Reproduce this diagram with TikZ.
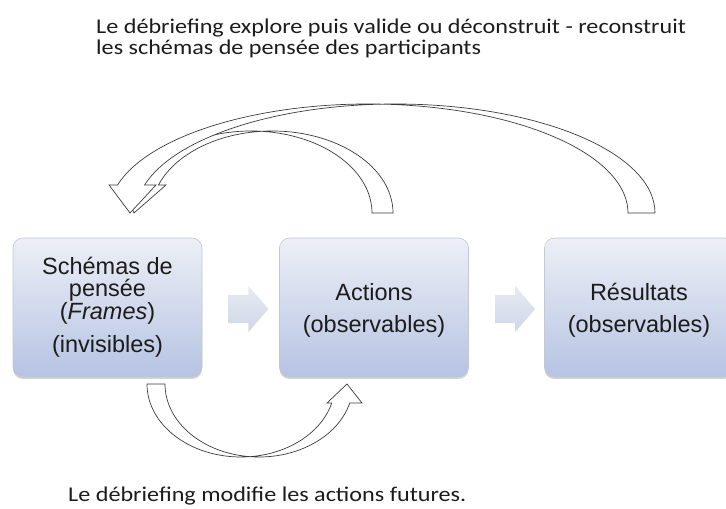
\documentclass[tikz,border=0pt]{standalone}
\usepackage{fontspec}
\setmainfont{Carlito}
\newfontfamily\capfont[FakeStretch=1.15]{Carlito}
\newfontfamily\boxfont{Liberation Sans}
\usetikzlibrary{shapes.arrows,shadows,calc}
\definecolor{boxtop}{RGB}{236,239,246}
\definecolor{boxbot}{RGB}{182,195,226}
\definecolor{boxline}{RGB}{196,200,212}
\definecolor{arrtop}{RGB}{230,234,242}
\definecolor{arrbot}{RGB}{208,215,230}
\definecolor{curveline}{RGB}{60,60,60}
\definecolor{txt}{RGB}{28,28,28}
\begin{document}
\begin{tikzpicture}[x=1pt,y=1pt,
  stagebox/.style={draw=boxline, line width=0.6pt, rounded corners=10pt,
    top color=boxtop, bottom color=boxbot,
    minimum width=189pt, minimum height=139pt, inner sep=0pt, align=center,
    font=\boxfont\fontsize{23.5}{21.5}\selectfont, text=txt,
    drop shadow={shadow xshift=0pt, shadow yshift=-2pt, opacity=0.25, fill=black!70}},
  blockarrow/.style={single arrow, single arrow head extend=9pt,
    single arrow tip angle=98, text height=14pt, text depth=14pt, text width=0pt,
    minimum height=40pt, inner sep=0pt, top color=arrtop, bottom color=arrbot, draw=none},
  curvedarrow/.style={draw=curveline, line width=0.7pt, fill=white, line join=miter},
  caption/.style={font=\capfont\fontsize{21}{21}\selectfont, text=txt, align=left, inner sep=0pt}]
\useasboundingbox (0,0) rectangle (726,509);

% boxes
\node[stagebox] (b1) at (107.5,201.5) {Schémas de\\pensée\\(\textit{Frames})\\[10.5pt](invisibles)};
\node[stagebox] (b2) at (374,201.5) {\rule{0pt}{23.4pt}Actions\\[10.5pt](observables)};
\node[stagebox] (b3) at (639,201.5) {\rule{0pt}{23.4pt}Résultats\\[10.5pt](observables)};

% straight block arrows
\node[blockarrow] (a1) at ($(b1.east)!0.5!(b2.west)+(1.5,-1.5)$) {};
\node[blockarrow] (a2) at ($(b2.east)!0.5!(b3.west)+(2.5,-1.5)$) {};

% curved arrow from Actions back to Schemas (inner)
\draw[curvedarrow] (393,296) arc[start angle=0, end angle=160.03, x radius=120.9pt, y radius=82pt]
  -- (166,324) -- (134,296) -- (122,324) -- (137.46,324)
  arc[start angle=160.03, end angle=0, x radius=120.9pt, y radius=82pt] -- cycle;

% curved arrow from Resultats back to Schemas (outer)
\draw[curvedarrow] (655,296) arc[start angle=0, end angle=165.11, x radius=259.6pt, y radius=109pt]
  -- (156,324) -- (130,296) -- (109,324) -- (117.52,324)
  arc[start angle=165.11, end angle=0, x radius=259.6pt, y radius=109pt] -- cycle;

% curved arrow from Schemas to Actions (bottom)
\draw[curvedarrow] (147,125) arc[start angle=180, end angle=344.91, x radius=94pt, y radius=73pt]
  -- (327,106) -- (347,125) -- (362,106) -- (349.76,106)
  arc[start angle=344.91, end angle=180, x radius=94pt, y radius=73pt] -- cycle;

% captions
\node[caption, anchor=base west] (ttop) at (96,454.5)
  {Le débriefing explore puis valide ou déconstruit - reconstruit\\les schémas de pensée des participants};
\node[caption, anchor=base west] (tbot) at (68,7)
  {Le débriefing modifie les actions futures.};
\end{tikzpicture}
\end{document}
